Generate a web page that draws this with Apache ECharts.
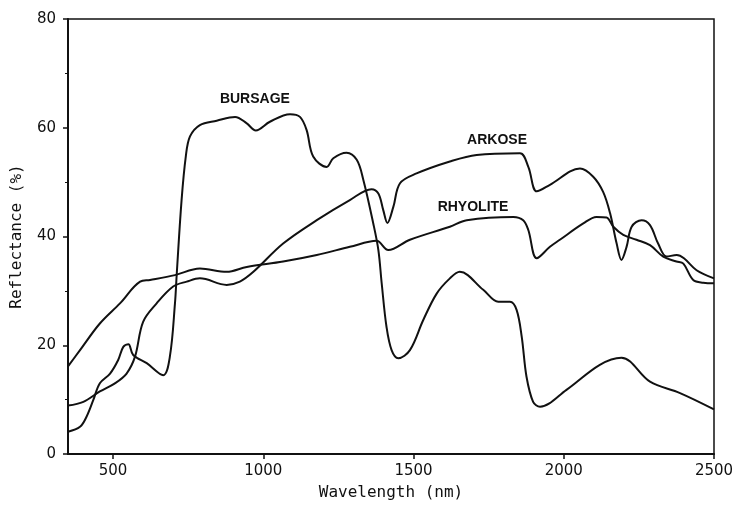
<!DOCTYPE html>
<html>
<head>
<meta charset="utf-8">
<script src="https://cdn.jsdelivr.net/npm/echarts@6/dist/echarts.min.js"></script>
<style>
html,body{margin:0;padding:0;background:#fff;}
#c{width:735px;height:507px;}
</style>
</head>
<body>
<div id="c"></div>
<script>
// ---- data ----
var xTicks = [500, 1000, 1500, 2000, 2500];
var yTicks = [0, 20, 40, 60, 80];
var seriesNames = ['BURSAGE', 'ARKOSE', 'RHYOLITE'];

var bursageWl = [350,390,412,434,456,490,517,534,551,567,612,667,689,706,712,728,742,756,789,845,906,945,975,1022,1089,1122,1144,1166,1211,1233,1277,1311,1333,1366,1383,1394,1410,1427,1449,1488,1532,1577,1621,1654,1732,1782,1821,1843,1860,1876,1898,1921,2009,2120,2192,2287,2387,2500];
var bursageRef = [4.1,5.0,6.9,9.9,13.0,14.8,17.3,19.7,20.2,18.2,16.7,14.5,17.9,27.7,33.2,46.7,54.7,58.4,60.5,61.3,62.0,60.8,59.5,61.1,62.5,62.0,59.6,54.7,52.8,54.4,55.4,54.1,50.4,42.4,37.5,31.4,23.4,19.1,17.6,19.1,24.6,29.5,32.3,33.5,30.2,28.0,28.0,26.5,21.6,14.2,9.6,8.7,11.8,16.4,17.7,13.3,11.2,8.2];

var arkoseWl = [350,401,456,506,545,573,600,645,700,745,789,878,922,967,1066,1178,1288,1360,1383,1399,1413,1433,1455,1510,1621,1710,1854,1882,1910,1954,2054,2098,2131,2154,2176,2192,2209,2226,2259,2287,2314,2342,2376,2400,2442,2500];
var arkoseRef = [8.9,9.6,11.5,13.0,14.8,17.9,24.3,27.7,30.8,31.7,32.3,31.1,31.7,33.5,38.7,43.0,46.7,48.7,47.9,44.9,42.5,45.5,49.8,51.6,53.8,55.0,55.3,52.8,48.3,49.5,52.5,51.0,48.2,44.3,38.7,35.7,38.1,41.8,43.0,42.1,38.7,36.3,36.6,36.0,33.8,32.3];

var rhyoliteWl = [350,390,456,523,590,623,706,789,878,945,1066,1178,1288,1377,1416,1488,1621,1677,1832,1865,1882,1910,1954,1987,2065,2109,2142,2165,2198,2242,2287,2331,2375,2398,2431,2464,2500];
var rhyoliteRef = [16.1,19.1,24.0,27.7,31.7,32.0,32.9,34.1,33.5,34.4,35.4,36.6,38.1,39.2,37.5,39.4,41.8,43.0,43.6,43.0,41.2,36.0,38.1,39.4,42.4,43.6,43.5,41.8,40.3,39.4,38.4,36.3,35.4,35.0,32.0,31.5,31.4];

function pairs(xs, ys) {
  var out = [];
  for (var i = 0; i < xs.length; i++) out.push([xs[i], ys[i]]);
  return out;
}

var ink = '#111';
var chart = echarts.init(document.getElementById('c'), null, {renderer: 'canvas'});

function lineSeries(name, xs, ys, labelCoord) {
  return {
    name: name,
    type: 'line',
    data: pairs(xs, ys),
    showSymbol: false,
    smooth: 0.35,
    lineStyle: {color: ink, width: 2},
    itemStyle: {color: ink},
    silent: true,
    markPoint: {
      symbol: 'circle',
      symbolSize: 0,
      silent: true,
      data: [{
        coord: labelCoord,
        label: {
          show: true,
          position: 'inside',
          formatter: name,
          color: ink,
          fontFamily: 'Liberation Sans',
          fontWeight: 'bold',
          fontSize: 14
        }
      }]
    }
  };
}

function plain(v) { return String(v); }

chart.setOption({
  animation: false,
  backgroundColor: '#fff',
  grid: {left: 68, right: 21, top: 19, bottom: 53, outerBoundsMode: 'none', containLabel: false,
         show: true, borderColor: ink, borderWidth: 1.5, backgroundColor: 'transparent'},
  xAxis: {
    type: 'value',
    min: 350,
    max: 2500,
    name: 'Wavelength (nm)',
    nameLocation: 'middle',
    nameGap: 31,
    nameTextStyle: {fontFamily: 'DejaVu Sans Mono', fontSize: 16, color: ink},
    axisLine: {show: true, lineStyle: {color: ink, width: 2}},
    axisTick: {show: true, customValues: xTicks, length: 5, lineStyle: {color: ink, width: 1.5}},
    axisLabel: {customValues: xTicks, formatter: plain, margin: 10, fontFamily: 'DejaVu Sans', fontSize: 15, color: ink},
    splitLine: {show: false}
  },
  yAxis: {
    type: 'value',
    min: 0,
    max: 80,
    interval: 20,
    name: 'Reflectance (%)',
    nameLocation: 'middle',
    nameGap: 43,
    nameRotate: 90,
    nameTextStyle: {fontFamily: 'DejaVu Sans Mono', fontSize: 16, color: ink},
    axisLine: {show: true, lineStyle: {color: ink, width: 2}},
    axisTick: {show: true, customValues: yTicks, length: 5, lineStyle: {color: ink, width: 1.5}},
    minorTick: {show: true, splitNumber: 2, length: 3, lineStyle: {color: ink, width: 1}},
    axisLabel: {customValues: yTicks, formatter: plain, margin: 12, fontFamily: 'DejaVu Sans', fontSize: 15, color: ink},
    splitLine: {show: false}
  },
  series: [
    lineSeries(seriesNames[0], bursageWl, bursageRef, [972, 65.3]),
    lineSeries(seriesNames[1], arkoseWl, arkoseRef, [1778, 57.7]),
    lineSeries(seriesNames[2], rhyoliteWl, rhyoliteRef, [1698, 45.4])
  ]
});
</script>
</body>
</html>
